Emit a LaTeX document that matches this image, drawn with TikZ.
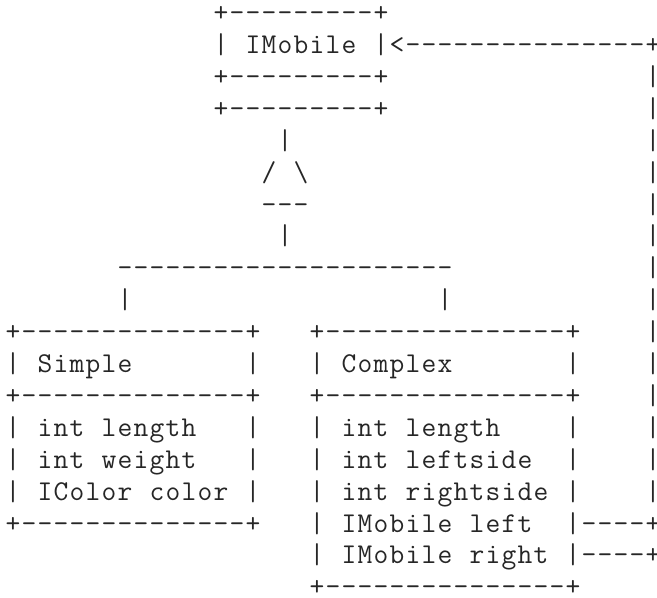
\documentclass[tikz,border=0pt]{standalone}
\usepackage{fontspec}
\newlength\cw
\setlength\cw{12pt}
\newcommand\gap[1]{\hspace*{#1\cw}}
\newcommand\mono[1]{\monoloop#1\relax}
\def\monoloop#1{\ifx#1\relax\else\makebox[\cw][c]{\ifx#1_\else#1\fi}\expandafter\monoloop\fi}
\tikzset{asc/.style={inner sep=0pt, outer sep=0pt, anchor=base west, text=black!85,
  font=\ttfamily\fontsize{21.5}{24}\selectfont}}
\newcommand\asciirow[3]{\node[asc] (row#1) at ({3.75pt+#2*12pt}, {-16.2pt-#1*23.925pt}) {#3};}
\begin{document}
\begin{tikzpicture}
\useasboundingbox (0,0) rectangle (492.75pt,-447.75pt);
\asciirow{0}{13}{\mono{+---------+}}
\asciirow{1}{13}{\mono{|_IMobile_|<---------------+}}
\asciirow{2}{13}{\mono{+---------+}\gap{16}\mono{|}}
\asciirow{3}{13}{\mono{+---------+}\gap{16}\mono{|}}
\asciirow{4}{17}{\mono{|}\gap{22}\mono{|}}
\asciirow{5}{16}{\mono{/_\textbackslash}\gap{21}\mono{|}}
\asciirow{6}{16}{\mono{---}\gap{21}\mono{|}}
\asciirow{7}{17}{\mono{|}\gap{22}\mono{|}}
\asciirow{8}{7}{\mono{---------------------}\gap{12}\mono{|}}
\asciirow{9}{7}{\mono{|}\gap{19}\mono{|}\gap{12}\mono{|}}
\asciirow{10}{0}{\mono{+--------------+}\gap{3}\mono{+---------------+}\gap{4}\mono{|}}
\asciirow{11}{0}{\mono{|_Simple}\gap{7}\mono{|}\gap{3}\mono{|_Complex}\gap{7}\mono{|}\gap{4}\mono{|}}
\asciirow{12}{0}{\mono{+--------------+}\gap{3}\mono{+---------------+}\gap{4}\mono{|}}
\asciirow{13}{0}{\mono{|_int_length}\gap{3}\mono{|}\gap{3}\mono{|_int_length}\gap{4}\mono{|}\gap{4}\mono{|}}
\asciirow{14}{0}{\mono{|_int_weight}\gap{3}\mono{|}\gap{3}\mono{|_int_leftside}\gap{2}\mono{|}\gap{4}\mono{|}}
\asciirow{15}{0}{\mono{|_IColor_color_|}\gap{3}\mono{|_int_rightside_|}\gap{4}\mono{|}}
\asciirow{16}{0}{\mono{+--------------+}\gap{3}\mono{|_IMobile_left}\gap{2}\mono{|----+}}
\asciirow{17}{19}{\mono{|_IMobile_right_|----+}}
\asciirow{18}{19}{\mono{+---------------+}}
\end{tikzpicture}
\end{document}
